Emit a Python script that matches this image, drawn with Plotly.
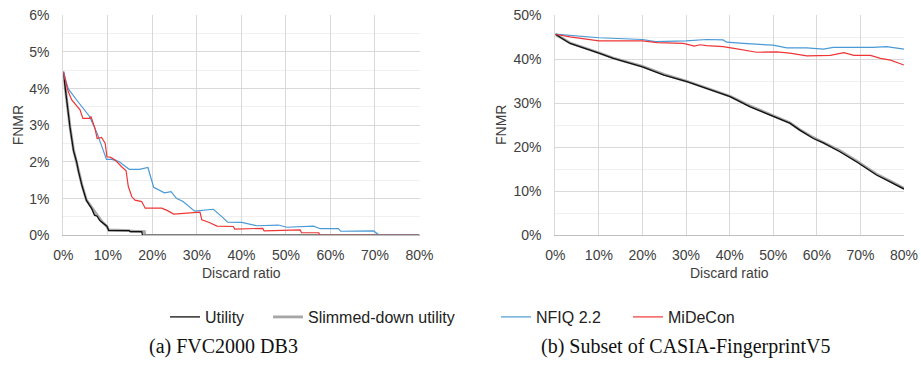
import plotly.graph_objects as go

# ---- FVC2000 DB3 (discard ratio %, FNMR %) ----
fvc_util_x = [0, 0.7, 1.5, 2.3, 3.0, 3.4, 4.2, 5.2, 5.8, 6.4, 7.0, 7.6, 8.2, 8.7, 9.2, 9.8, 10.2, 14.8, 15.0, 17.6, 17.8, 80]
fvc_util_y = [4.46, 3.70, 2.95, 2.30, 2.00, 1.75, 1.35, 0.95, 0.85, 0.72, 0.55, 0.52, 0.40, 0.36, 0.30, 0.25, 0.13, 0.13, 0.10, 0.10, 0.0, 0.0]

fvc_slim_x = [0, 0.75, 1.5, 2.3, 3.4, 4.2, 5.2, 6.5, 7.6, 8.7, 9.8, 10.2, 14.8, 15.2, 18.2, 18.3, 80]
fvc_slim_y = [4.46, 3.69, 2.96, 2.33, 1.78, 1.37, 0.96, 0.74, 0.53, 0.37, 0.24, 0.15, 0.13, 0.11, 0.10, 0.0, 0.0]

fvc_nfiq_x = [0, 1.1, 3.0, 5.9, 7.6, 9.7, 10.9, 12.5, 14.8, 17.1, 19.0, 20.3, 22.7, 24.2, 25.4, 26.9, 29.5, 33.7, 35.6, 36.9, 40.1, 43.5, 48.3, 50.2, 56.2, 57.7, 61.8, 62.3, 69.7, 71.0, 80]
fvc_nfiq_y = [4.46, 4.00, 3.69, 3.24, 2.78, 2.07, 2.07, 2.01, 1.80, 1.80, 1.85, 1.31, 1.16, 1.19, 1.01, 0.92, 0.66, 0.71, 0.51, 0.36, 0.35, 0.26, 0.28, 0.22, 0.25, 0.18, 0.18, 0.11, 0.12, 0.0, 0.0]

fvc_mide_x = [0, 1.1, 1.9, 3.75, 4.4, 5.9, 6.2, 7.1, 7.6, 8.6, 9.4, 9.8, 10.5, 11.6, 13.1, 14.1, 14.6, 15.4, 16.1, 17.6, 18.4, 22.1, 23.3, 24.8, 30.7, 31.1, 32.8, 34.5, 38.2, 38.5, 44.8, 45.1, 53.2, 53.5, 57.4, 57.6, 80]
fvc_mide_y = [4.46, 3.92, 3.69, 3.42, 3.19, 3.19, 3.24, 2.92, 2.64, 2.67, 2.51, 2.14, 2.13, 2.06, 1.87, 1.76, 1.33, 1.05, 0.96, 0.92, 0.74, 0.74, 0.68, 0.58, 0.63, 0.42, 0.35, 0.25, 0.24, 0.17, 0.19, 0.12, 0.15, 0.07, 0.07, 0.0, 0.0]

# ---- Subset of CASIA-FingerprintV5 ----
cas_util_x = [0, 3.4, 10, 13.3, 20, 24.9, 30.2, 34.7, 40.1, 44.7, 50, 53.8, 56.1, 59.2, 61.5, 65.3, 69.1, 73.7, 76.7, 80]
cas_util_y = [45.7, 43.6, 41.4, 40.2, 38.3, 36.4, 34.9, 33.4, 31.5, 29.2, 27.0, 25.5, 23.9, 22.0, 21.0, 19.0, 16.7, 13.7, 12.2, 10.5]

cas_slim_x = [0, 3.4, 10, 13.3, 20, 24.9, 30.2, 34.7, 40.1, 44.7, 50, 53.8, 56.1, 59.2, 61.5, 65.3, 69.1, 73.7, 76.7, 80]
cas_slim_y = [45.7, 43.7, 41.5, 40.3, 38.4, 36.6, 35.0, 33.5, 31.6, 29.4, 27.1, 25.6, 24.0, 22.2, 21.1, 19.2, 16.9, 13.9, 12.4, 10.7]

cas_nfiq_x = [0, 10, 20, 23, 30, 34.7, 38.5, 39.3, 43.1, 50, 53.1, 57.7, 61.5, 63.8, 72.9, 76.0, 80]
cas_nfiq_y = [45.7, 44.9, 44.5, 44.0, 44.2, 44.5, 44.4, 43.9, 43.6, 43.2, 42.6, 42.6, 42.3, 42.7, 42.7, 42.9, 42.3]

cas_mide_x = [0, 3.4, 10, 14.7, 20, 23.4, 29.4, 31.9, 33.2, 34.7, 38.5, 41.0, 46.2, 50.8, 53.8, 57.7, 60.8, 63.1, 66.2, 68.5, 72.3, 74.6, 76.9, 80]
cas_mide_y = [45.7, 45.1, 44.2, 44.2, 44.2, 43.8, 43.6, 43.0, 43.3, 43.1, 42.9, 42.5, 41.6, 41.7, 41.4, 40.8, 40.9, 40.9, 41.5, 40.9, 40.9, 40.2, 39.8, 38.7]

x_ticks = [0, 10, 20, 30, 40, 50, 60, 70, 80]
fvc_y_ticks = [0, 1, 2, 3, 4, 5, 6]
cas_y_ticks = [0, 10, 20, 30, 40, 50]

series_names = ["Utility", "Slimmed-down utility", "NFIQ 2.2", "MiDeCon"]
captions = ["(a) FVC2000 DB3", "(b) Subset of CASIA-FingerprintV5"]

W, H = 921, 371
BLACK, GRAY, BLUE, RED = "#111111", "#a6a6a6", "#4a9ad6", "#ef3535"
styles = [
    dict(color=BLACK, width=1.3),
    dict(color=GRAY, width=2.8),
    dict(color=BLUE, width=1.2),
    dict(color=RED, width=1.2),
]

fig = go.Figure()

panels = [
    ("x", "y", [(fvc_slim_x, fvc_slim_y), (fvc_util_x, fvc_util_y), (fvc_nfiq_x, fvc_nfiq_y), (fvc_mide_x, fvc_mide_y)]),
    ("x2", "y2", [(cas_slim_x, cas_slim_y), (cas_util_x, cas_util_y), (cas_nfiq_x, cas_nfiq_y), (cas_mide_x, cas_mide_y)]),
]
order = [1, 0, 2, 3]  # draw slimmed-down beneath utility
legend_ids = ["legend", "legend2", "legend3", "legend4"]
for pi, (xa, ya, data) in enumerate(panels):
    for di, (xs, ys) in enumerate(data):
        si = order[di]
        fig.add_trace(go.Scatter(
            x=xs, y=ys, xaxis=xa, yaxis=ya, mode="lines",
            name=series_names[si], line=styles[si],
            showlegend=(pi == 0), legend=legend_ids[si],
        ))


def pct(vals):
    return [f"{v}%" for v in vals]


tick_font = dict(family="Liberation Sans, Arial", size=14, color="#404040")
grid = "#d9d9d9"
minor_grid = "#f0f0f0"


def px_x(p):
    return p / W


def px_y(p):
    return 1 - p / H


y_dom = [px_y(235.3), px_y(15.3)]
common_x = dict(range=[0, 80], tickmode="array", tickvals=x_ticks, ticktext=pct(x_ticks),
                showgrid=True, gridcolor=grid, gridwidth=1, zeroline=False, showline=True,
                linecolor="#bfbfbf", linewidth=1, mirror=False, ticks="", tickfont=tick_font,
                ticklabelstandoff=7, fixedrange=True, automargin=False)
common_y = dict(showgrid=True, gridcolor=grid, gridwidth=1, zeroline=False, tickmode="array",
                showline=True, linecolor=grid, ticks="", tickfont=tick_font, ticklabelstandoff=10,
                domain=y_dom, fixedrange=True, automargin=False)

fig.update_layout(
    width=W, height=H, margin=dict(l=0, r=0, t=0, b=0, autoexpand=False),
    paper_bgcolor="white", plot_bgcolor="white",
    xaxis=dict(domain=[px_x(63.3), px_x(419.5)], anchor="y", **common_x),
    xaxis2=dict(domain=[px_x(555.3), px_x(904)], anchor="y2", **common_x),
    yaxis=dict(range=[0, 6], tickvals=fvc_y_ticks, ticktext=pct(fvc_y_ticks), anchor="x",
               minor=dict(dtick=0.5, showgrid=True, gridcolor=minor_grid), **common_y),
    yaxis2=dict(range=[0, 50], tickvals=cas_y_ticks, ticktext=pct(cas_y_ticks), anchor="x2",
                minor=dict(dtick=5, showgrid=True, gridcolor=minor_grid), **common_y),
    showlegend=True,
)

legend_font = dict(family="Liberation Sans, Arial", size=16, color="#222222")
legend_x = [165, 268, 496, 628]
for lid, lx in zip(legend_ids, legend_x):
    fig.update_layout({lid: dict(x=px_x(lx), xanchor="left", y=px_y(317), yanchor="middle",
                                 orientation="h", font=legend_font, bgcolor="rgba(0,0,0,0)",
                                 borderwidth=0)})

title_font = dict(family="Liberation Sans, Arial", size=14, color="#404040")
for cx, cy_title in [(241.5, 18), (729.6, 501.7)]:
    fig.add_annotation(x=px_x(cx), y=px_y(273), xref="paper", yref="paper", text="Discard ratio",
                       showarrow=False, font=title_font, xanchor="center", yanchor="middle")
    fig.add_annotation(x=px_x(cy_title), y=px_y(125.3), xref="paper", yref="paper", text="FNMR",
                       textangle=-90, showarrow=False, font=title_font, xanchor="center", yanchor="middle")

cap_font = dict(family="Liberation Serif, Times New Roman", size=20, color="#111111")
for cap, cx in zip(captions, [223, 685]):
    fig.add_annotation(x=px_x(cx), y=px_y(346), xref="paper", yref="paper", text=cap,
                       showarrow=False, font=cap_font, xanchor="center", yanchor="middle")

fig.write_html("out.html")
